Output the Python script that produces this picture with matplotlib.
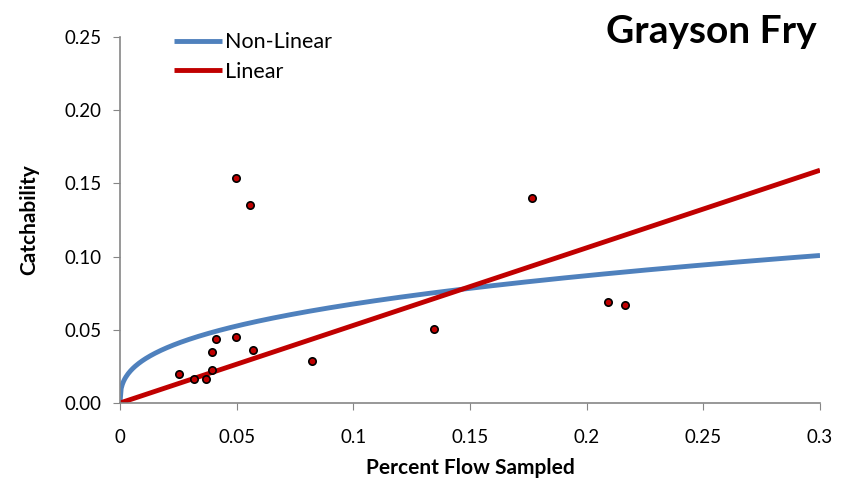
import matplotlib
matplotlib.use("Agg")
import matplotlib.pyplot as plt
import numpy as np

# observed catchability vs percent flow sampled
flow_sampled = [0.0498, 0.0556, 0.0410, 0.0498, 0.0393, 0.0571, 0.0824, 0.0251,
                0.0396, 0.0319, 0.0367, 0.1764, 0.1344, 0.2090, 0.2164]
catchability = [0.154, 0.1355, 0.0437, 0.0453, 0.0348, 0.0360, 0.0285, 0.0200,
                0.0223, 0.0162, 0.0164, 0.1398, 0.0508, 0.0688, 0.0667]

# fitted models
linear_slope = 0.53
power_coef = 0.156
power_exp = 0.363

x_ticks = [0, 0.05, 0.1, 0.15, 0.2, 0.25, 0.3]
x_tick_labels = ["0", "0.05", "0.1", "0.15", "0.2", "0.25", "0.3"]
y_ticks = [0.0, 0.05, 0.10, 0.15, 0.20, 0.25]

plt.rcParams["font.family"] = ["Lato", "DejaVu Sans"]

fig = plt.figure(figsize=(8.49, 4.86), dpi=100)
ax = fig.add_axes([120 / 849, 83 / 486, 700 / 849, 366 / 486])

x_fit = np.linspace(0, 0.3, 600)
ax.plot(x_fit, power_coef * x_fit ** power_exp, color="#4f81bd", linewidth=3.5,
        label="Non-Linear", solid_capstyle="butt", zorder=2)
ax.plot(x_fit, linear_slope * x_fit, color="#c00000", linewidth=3.5,
        label="Linear", solid_capstyle="butt", zorder=2)
ax.scatter(flow_sampled, catchability, s=28, color="#c00000", edgecolor="black",
           linewidth=1.2, zorder=3)

ax.set_xlim(0, 0.3)
ax.set_ylim(0, 0.25)
ax.set_xticks(x_ticks)
ax.set_xticklabels(x_tick_labels)
ax.set_yticks(y_ticks)
ax.set_yticklabels([f"{v:.2f}" for v in y_ticks])
ax.tick_params(direction="out", length=5, color="#868686", labelsize=13.5)
ax.tick_params(axis="x", pad=14)
ax.tick_params(axis="y", pad=8)
for side in ("top", "right"):
    ax.spines[side].set_visible(False)
for side in ("left", "bottom"):
    ax.spines[side].set_color("#868686")
    ax.spines[side].set_linewidth(1.2)

ax.set_xlabel("Percent Flow Sampled", fontsize=15, fontweight="bold", labelpad=8)
ax.set_ylabel("Catchability", fontsize=15, fontweight="bold", labelpad=18)

ax.legend(loc="upper left", bbox_to_anchor=(0.05, 1.066), frameon=False,
          fontsize=15.5, handlelength=2.2, handletextpad=0.15, labelspacing=0.45)

fig.text(0.962, 0.9, "Grayson Fry", ha="right", va="bottom", fontsize=28,
         fontweight="bold")

fig.savefig("out.png", dpi=100)
